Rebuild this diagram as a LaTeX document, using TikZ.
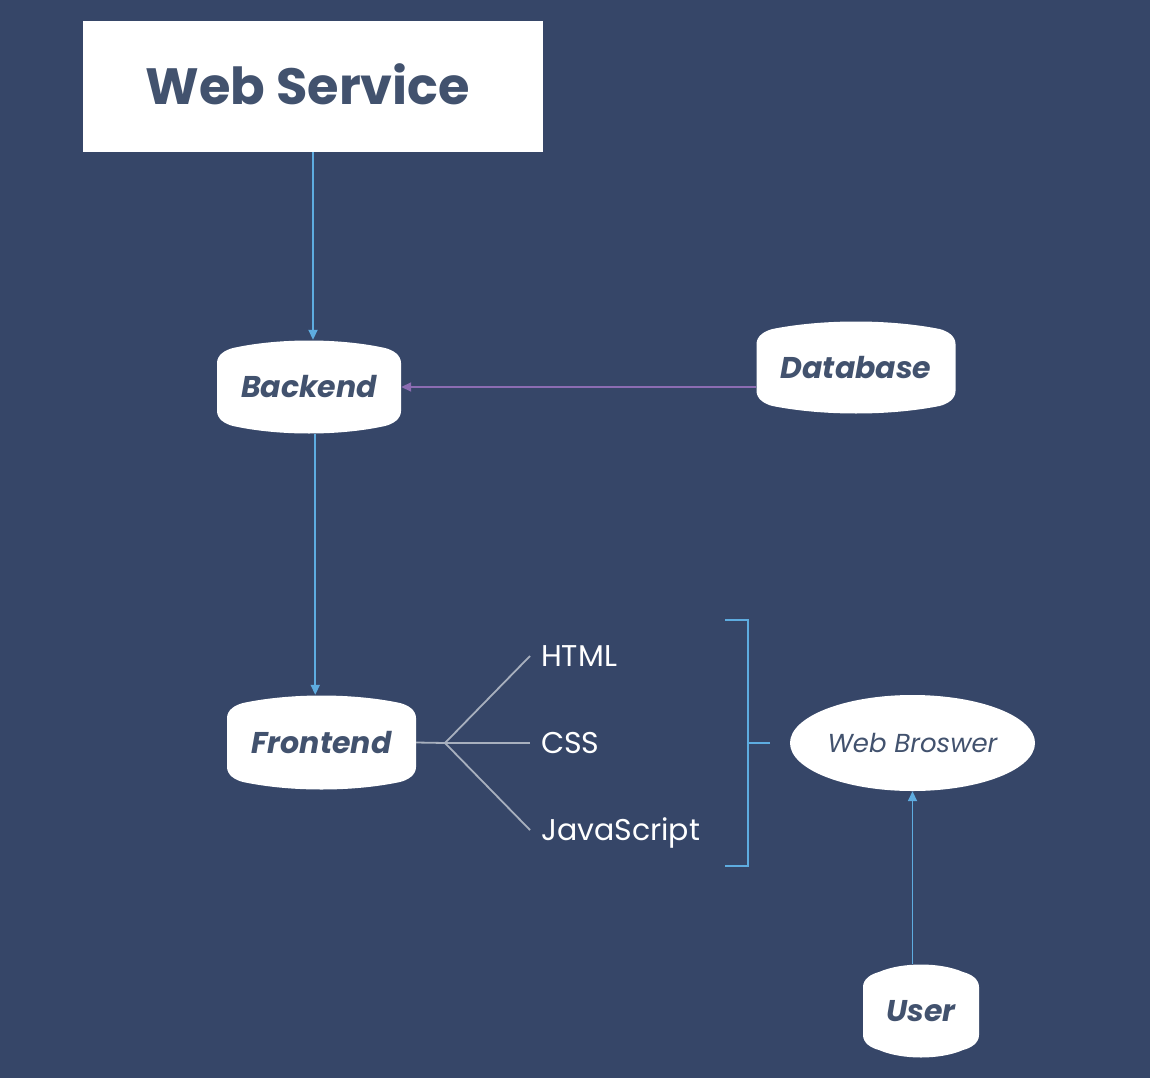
\documentclass[tikz,border=0pt]{standalone}
\usepackage{fontspec}
\setmainfont{Poppins}
\usetikzlibrary{shapes.geometric,arrows.meta,positioning,calc}
\definecolor{CanvasNavy}{RGB}{54,70,104}
\definecolor{InkSlate}{RGB}{66,82,110}
\definecolor{LinkBlue}{RGB}{94,172,224}
\definecolor{LinkPurple}{RGB}{140,108,178}
\definecolor{ForkGrey}{RGB}{168,176,190}

\tikzset{
  blobtext/.style={font=\fontsize{30}{30}\selectfont\bfseries\itshape, text=InkSlate,
    inner sep=0pt, text height=21pt, text depth=0pt},
  stacktext/.style={font=\fontsize{30}{30}\selectfont, text=white, anchor=west,
    inner sep=0pt, text height=21pt, text depth=0pt},
  bluelink/.style={draw=LinkBlue, line width=1.8pt, -{Triangle[length=10pt,width=9pt]}},
  purplelink/.style={draw=LinkPurple, line width=1.8pt, -{Triangle[length=10pt,width=9pt]}},
  forkline/.style={draw=ForkGrey, line width=1.8pt},
  bracketline/.style={draw=LinkBlue, line width=1.8pt}
}

\begin{document}
\begin{tikzpicture}[x=1pt,y=-1pt]
  \fill[CanvasNavy] (0,0) rectangle (1150,1078);

  % title box
  \node[fill=white, minimum width=460pt, minimum height=131pt, inner sep=0pt,
    text=InkSlate] (service) at (313,86.5) {};
  \node[font=\fontsize{51}{51}\selectfont\bfseries, text=InkSlate, inner sep=0pt,
    text height=36pt, text depth=0pt] (servicetitle) at ([xshift=-5pt]service.center) {Web Service};

  % rounded tag shapes with their labels
  \foreach \cx/\cy/\a/\b/\name/\label in {309/387/92/47/backend/Backend,
      856/367.5/99.5/46.5/database/Database,
      321.5/742.5/94.5/47.5/frontend/Frontend,
      921/1011/58/47/user/User} {
    \fill[white] (\cx-\a,\cy-\b+23) -- (\cx-\a,\cy+\b-23)
      .. controls (\cx-\a,\cy+\b-15) and (\cx-\a+8,\cy+\b-10) .. (\cx-\a+16,\cy+\b-8)
      .. controls (\cx-\a/3,\cy+\b+2) and (\cx+\a/3,\cy+\b+2) .. (\cx+\a-16,\cy+\b-8)
      .. controls (\cx+\a-8,\cy+\b-10) and (\cx+\a,\cy+\b-15) .. (\cx+\a,\cy+\b-23)
      -- (\cx+\a,\cy-\b+23)
      .. controls (\cx+\a,\cy-\b+15) and (\cx+\a-8,\cy-\b+10) .. (\cx+\a-16,\cy-\b+8)
      .. controls (\cx+\a/3,\cy-\b-2) and (\cx-\a/3,\cy-\b-2) .. (\cx-\a+16,\cy-\b+8)
      .. controls (\cx-\a+8,\cy-\b+10) and (\cx-\a,\cy-\b+15) .. cycle;
    \node[blobtext, minimum width=2*\a, minimum height=2*\b] (\name) at (\cx,\cy) {\label};
  }

  \node[ellipse, fill=white, minimum width=245pt, minimum height=96pt, inner sep=0pt,
    font=\fontsize{26}{26}\selectfont\itshape, text=InkSlate,
    text height=18pt, text depth=0pt] (browser) at (912.5,743) {Web Broswer};

  % frontend technologies
  \node[stacktext] (html) at (541,656) {HTML};
  \node[stacktext] (css) at (541,743) {CSS};
  \node[stacktext] (js) at (541,830) {JavaScript};

  \coordinate (fork) at (445,743);
  \draw[forkline] (frontend.east) -- (fork);
  \foreach \t in {html,css,js}
    \draw[forkline] (fork) -- ([xshift=-11pt]\t.west);

  % bracket
  \coordinate (brtop) at (725,620);
  \coordinate (brbot) at (725,866);
  \coordinate (brmid) at (748,743);
  \coordinate (brtick) at (770,743);
  \draw[bracketline] (brtop) -| (brmid) |- (brbot);
  \draw[bracketline] (brmid) -- (brtick);

  % links
  \draw[bluelink] (service.south) -- (service.south |- backend.north);
  \coordinate (midlink) at ($(backend.south)!0.5!(frontend.north)$);
  \draw[bluelink] (midlink |- backend.south) -- (midlink |- frontend.north);
  \draw[purplelink] (backend.east -| database.west) -- (backend.east);
  \draw[bluelink] (user.north -| browser.south) -- (browser.south);
\end{tikzpicture}
\end{document}
